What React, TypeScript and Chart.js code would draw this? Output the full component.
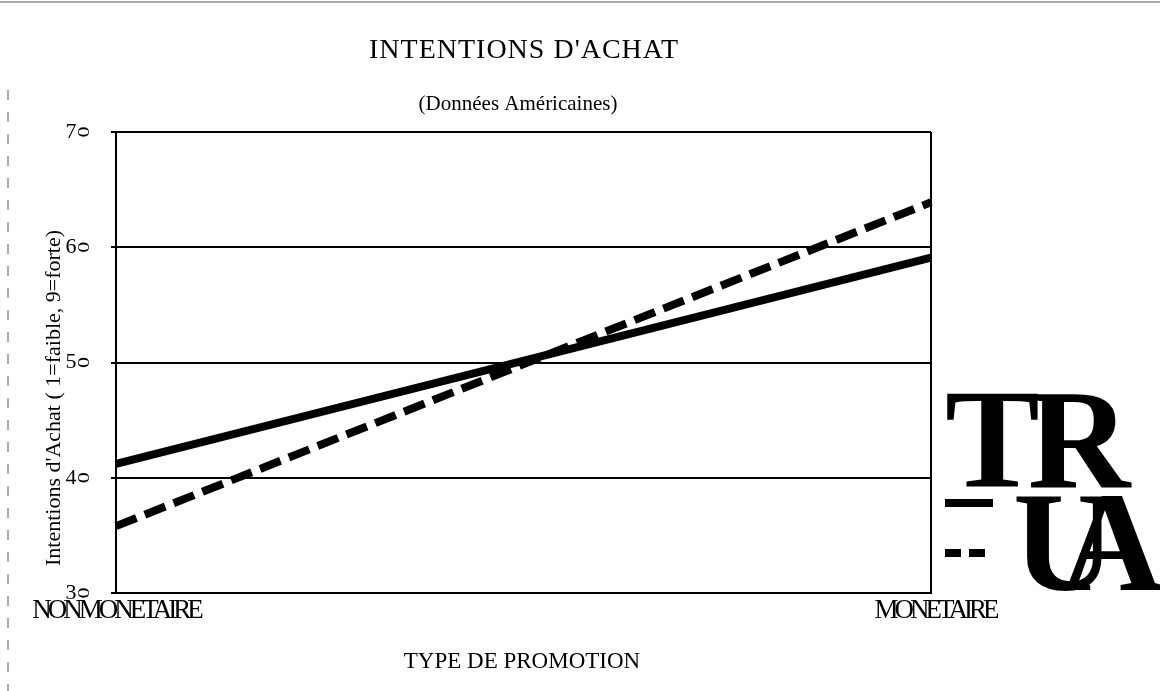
import React, { useEffect, useRef } from "react";
import { Chart, registerables } from "chart.js";

Chart.register(...registerables);

const categories = ["NONMONETAIRE", "MONETAIRE"];
const seriesSolid = [4.12, 5.91];
const seriesDashed = [3.58, 6.39];
const legendLabels = ["TR", "UA"];
const yTicks = [3, 4, 5, 6, 7];
const titleText = "INTENTIONS D'ACHAT";
const subtitleText = "(Données Américaines)";
const xTitleText = "TYPE DE PROMOTION";
const yTitleText = "Intentions d'Achat ( 1=faible, 9=forte)";

const SERIF = "'Liberation Serif', 'Times New Roman', serif";

const decorPlugin = {
  id: "decor",
  afterDraw(chart: any) {
    const ctx = chart.ctx as CanvasRenderingContext2D;
    const xs = chart.scales.x;
    const ys = chart.scales.y;
    const area = chart.chartArea;
    ctx.save();
    ctx.fillStyle = "#000";
    ctx.textAlign = "center";
    ctx.textBaseline = "alphabetic";

    // titles
    (ctx as any).letterSpacing = "1px";
    ctx.font = `28px ${SERIF}`;
    ctx.fillText(titleText, 524, 58);
    (ctx as any).letterSpacing = "0px";
    ctx.font = `21px ${SERIF}`;
    ctx.fillText(subtitleText, 518, 110);
    ctx.font = `23px ${SERIF}`;
    ctx.fillText(xTitleText, 522, 668);

    // y title
    ctx.save();
    ctx.textBaseline = "middle";
    ctx.translate(54, 398);
    ctx.rotate(-Math.PI / 2);
    ctx.font = `22px ${SERIF}`;
    ctx.fillText(yTitleText, 0, 0);
    ctx.restore();

    // y tick labels
    ctx.textBaseline = "middle";
    yTicks.forEach((v) => {
      const py = ys.getPixelForValue(v);
      ctx.font = `22px ${SERIF}`;
      ctx.fillText(String(v), 71, py);
      ctx.save();
      ctx.translate(85, py);
      ctx.rotate(-Math.PI / 2);
      ctx.scale(1, 0.75);
      ctx.fillText("0", 0, 0);
      ctx.restore();
    });

    // x tick labels (condensed)
    ctx.textBaseline = "alphabetic";
    ctx.font = `27px ${SERIF}`;
    (ctx as any).letterSpacing = "-4px";
    categories.forEach((c, i) => {
      const px = xs.getPixelForValue(i);
      ctx.fillText(c, px + (i === 0 ? 0 : 4), 618);
    });
    (ctx as any).letterSpacing = "0px";

    // right border
    ctx.strokeStyle = "#000";
    ctx.lineWidth = 2;
    ctx.beginPath();
    ctx.moveTo(area.right, area.top);
    ctx.lineTo(area.right, area.bottom);
    ctx.stroke();

    // legend samples
    const ds = chart.data.datasets;
    const sampleY = [503, 553];
    const sampleEnd = [993, 985];
    ds.forEach((d: any, i: number) => {
      ctx.save();
      ctx.strokeStyle = "#000";
      ctx.lineWidth = 8;
      ctx.setLineDash(d.borderDash ? [16, 8] : []);
      ctx.beginPath();
      ctx.moveTo(945, sampleY[i]);
      ctx.lineTo(sampleEnd[i], sampleY[i]);
      ctx.stroke();
      ctx.restore();
    });
    // legend labels (huge, overlapping)
    ctx.textAlign = "left";
    ctx.font = `bold 142px ${SERIF}`;
    (ctx as any).letterSpacing = "-12px";
    ctx.fillText(legendLabels[0], 945, 487);
    (ctx as any).letterSpacing = "-55px";
    ctx.fillText(legendLabels[1], 1013, 590);
    (ctx as any).letterSpacing = "0px";

    // scan artifacts
    ctx.strokeStyle = "#555";
    ctx.lineWidth = 1;
    ctx.beginPath();
    ctx.moveTo(0, 2);
    ctx.lineTo(1160, 2);
    ctx.stroke();
    ctx.setLineDash([10, 12]);
    ctx.beginPath();
    ctx.moveTo(8, 90);
    ctx.lineTo(8, 691);
    ctx.stroke();
    ctx.restore();
  },
};

export default function App() {
  const ref = useRef<HTMLCanvasElement>(null);
  useEffect(() => {
    document.body.style.margin = "0";
    const chart = new Chart(ref.current as HTMLCanvasElement, {
      type: "line",
      data: {
        labels: categories,
        datasets: [
          {
            label: legendLabels[0],
            data: seriesSolid,
            borderColor: "#000",
            borderWidth: 8,
            pointRadius: 0,
            fill: false,
          },
          {
            label: legendLabels[1],
            data: seriesDashed,
            borderColor: "#000",
            borderWidth: 8,
            borderDash: [22, 9],
            pointRadius: 0,
            fill: false,
          },
        ],
      },
      options: {
        animation: false,
        responsive: false,
        layout: { padding: { left: 111, right: 229, top: 132, bottom: 98 } },
        plugins: {
          legend: { display: false },
          title: { display: false },
          tooltip: { enabled: false },
        },
        scales: {
          x: {
            type: "category",
            offset: false,
            ticks: { display: false },
            grid: { color: "#000", lineWidth: 2, drawTicks: false },
            border: { color: "#000", width: 2 },
          },
          y: {
            min: 3,
            max: 7,
            ticks: { display: false, stepSize: 1 },
            grid: { color: "#000", lineWidth: 2, drawTicks: true, tickLength: 5 },
            border: { color: "#000", width: 2 },
          },
        },
      },
      plugins: [decorPlugin],
    });
    return () => chart.destroy();
  }, []);
  return (
    <div style={{ position: "absolute", left: 0, top: 0, width: 1160, height: 691, background: "#fff" }}>
      <canvas ref={ref} width={1160} height={691} />
    </div>
  );
}
